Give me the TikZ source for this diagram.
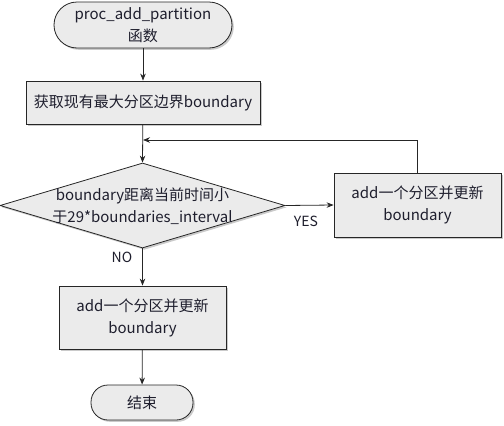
\documentclass[tikz,border=0pt]{standalone}
\usepackage{fontspec}
\setmainfont{Noto Sans CJK SC}
\usetikzlibrary{shapes.geometric,shadows,arrows.meta}
\definecolor{boxfill}{RGB}{235,235,235}
\definecolor{txt}{RGB}{30,30,45}
\begin{document}
\begin{tikzpicture}[x=1pt,y=-1pt,
  base/.style={draw=black!85, line width=0.8pt, fill=boxfill, text=txt, align=center, inner sep=0pt,
    font=\fontsize{15}{22}\selectfont,
    drop shadow={shadow xshift=1.8pt, shadow yshift=-1.8pt, fill=black!35, opacity=0.6}},
  term/.style={base, rounded corners=17pt},
  proc/.style={base},
  dec/.style={base, diamond},
  lbl/.style={text=txt, font=\fontsize{14}{16}\selectfont, inner sep=0pt},
  conn/.style={draw=black!85, line width=0.8pt},
  arr/.style={conn, -{Stealth[length=7pt,width=5.5pt]}}]
\useasboundingbox (0,0) rectangle (504,426);
\node[term, minimum width=178pt, minimum height=46pt, rounded corners=23pt] (start) at (143,25) {proc\_add\_partition\\函数};
\node[proc, minimum width=234pt, minimum height=43pt] (b1) at (143,102.5) {获取现有最大分区边界boundary};
\node[dec, minimum width=285pt, minimum height=85pt] (d) at (142.5,205.5) {};
\node[text=txt, align=center, inner sep=0pt, font=\fontsize{15}{22}\selectfont] (dt) at (142.5,206) {boundary距离当前时间小\\于29*boundaries\_interval};
\node[proc, minimum width=167pt, minimum height=64pt] (rb) at (417.5,205) {add一个分区并更新\\boundary};
\node[proc, minimum width=167pt, minimum height=63pt] (b3) at (142.5,317.5) {add一个分区并更新\\boundary};
\node[term, minimum width=102pt, minimum height=35pt] (end) at (142,402.5) {结束};
\node[lbl] (yes) at (306,221) {YES};
\node[lbl] (no) at (122,257) {NO};
\coordinate (loop) at (143,140);
\draw[arr] (start) -- (b1);
\draw[arr] (b1) -- (d.north);
\draw[arr] (rb.north) |- (loop);
\draw[arr] (d.east) -- (rb.west);
\draw[arr] (d.south) -- (b3.north);
\draw[arr] (b3) -- (end);
\end{tikzpicture}
\end{document}
